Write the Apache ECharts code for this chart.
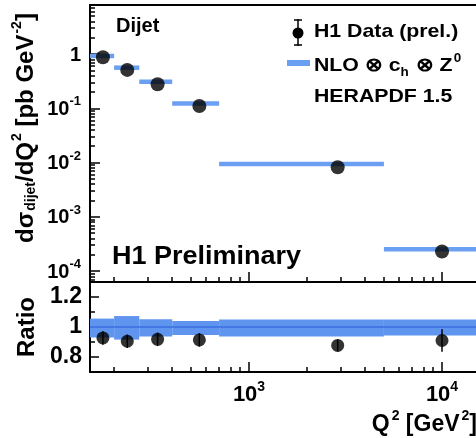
<!DOCTYPE html>
<html>
<head>
<meta charset="utf-8">
<script src="https://cdn.jsdelivr.net/npm/echarts@6/dist/echarts.min.js"></script>
<style>
html,body{margin:0;padding:0;background:#fff;}
#chart{width:476px;height:438px;}
</style>
</head>
<body>
<div id="chart"></div>
<script>
// Q^2 bins [GeV^2]
const binLow  = [150, 200, 270, 400, 700, 5000];
const binHigh = [200, 270, 400, 700, 5000, 15000];
// H1 dijet cross section points (bin centres) [pb GeV^-2]
const dataQ2    = [175, 234, 336, 553, 2880, 10000];
const dataXsec  = [0.87, 0.51, 0.277, 0.110, 0.0082, 2.3e-4];
// NLO x c_h x Z0 prediction per bin [pb GeV^-2]
const nloXsec   = [0.92, 0.56, 0.309, 0.122, 0.0094, 2.54e-4];
// Data / NLO ratio and its uncertainty
const ratioVal  = [0.927, 0.905, 0.918, 0.914, 0.877, 0.91];
const ratioErr  = [0.045, 0.045, 0.045, 0.045, 0.04, 0.075];
// Theory uncertainty band around 1 (up / down)
const bandUp    = [0.056, 0.073, 0.052, 0.040, 0.050, 0.050];
const bandDown  = [0.070, 0.084, 0.063, 0.054, 0.063, 0.056];
// Axis ranges and tick values
const xMin = 150, xMax = 15000;
const yMin = 6.31e-5, yMax = 8.0;
const rMin = 0.7, rMax = 1.3;
const xMajorTicks = [1000, 10000];
const yMajorTicks = [1e-4, 1e-3, 1e-2, 1e-1, 1];
const rMajorTicks = [0.8, 1.0, 1.2];
const rMinorTicks = [0.9, 1.1];

const FONT = "'Liberation Sans', Arial, Helvetica, sans-serif";
const BLUE_BAR = '#6b9ff2';
const BLUE_BAND = '#5f95ee';
const BLUE_LINE = '#3a6ee0';

function logMinor(lo, hi) {
  const out = [];
  for (let e = -6; e <= 5; e++) {
    for (let m = 2; m <= 9; m++) {
      const v = Number((m * Math.pow(10, e)).toPrecision(3));
      if (v > lo && v < hi) out.push(v);
    }
  }
  return out;
}
const xMinorTicks = logMinor(xMin, xMax);
const yMinorTicks = logMinor(yMin, yMax);

function powLabel(v) {
  const e = Math.round(Math.log10(v));
  if (e === 0) return '{m|1}';
  return '{m|10}{s|' + e + '}';
}
function powRich(size, supSize, raise) {
  return {
    m: {fontFamily: FONT, fontWeight: 'bold', fontSize: size, color: '#000', lineHeight: size + 2, verticalAlign: 'bottom'},
    s: {fontFamily: FONT, fontWeight: 'bold', fontSize: supSize, color: '#000', lineHeight: supSize + 1, verticalAlign: 'bottom', padding: [0, 0, raise, 0]}
  };
}

const axisLine = {show: true, lineStyle: {color: '#000', width: 2}};
const noLine = {show: false};

function xAxisPair(grid, showLabels) {
  return [
    {
      type: 'log', gridIndex: grid, min: xMin, max: xMax, position: 'bottom',
      axisLine: axisLine,
      axisTick: {show: true, inside: true, length: 10, customValues: xMajorTicks, lineStyle: {color: '#000', width: 1.5}},
      axisLabel: showLabels ? {
        show: true, customValues: xMajorTicks, margin: 10,
        formatter: powLabel, rich: powRich(22, 14, 12)
      } : {show: false},
      splitLine: {show: false}
    },
    {
      type: 'log', gridIndex: grid, min: xMin, max: xMax, position: 'bottom',
      axisLine: noLine,
      axisTick: {show: true, inside: true, length: 5, customValues: xMinorTicks, lineStyle: {color: '#000', width: 1.5}},
      axisLabel: {show: false},
      splitLine: {show: false}
    }
  ];
}

const option = {
  animation: false,
  backgroundColor: '#fff',
  grid: [
    {left: 90, right: -2, top: 5, height: 277},
    {left: 90, right: -2, top: 282, height: 90}
  ],
  xAxis: [
    ...xAxisPair(0, false),
    ...xAxisPair(1, true),
    // upper frame line of the cross-section panel
    {type: 'log', gridIndex: 0, min: xMin, max: xMax, position: 'top', axisLine: axisLine,
     axisTick: {show: false}, axisLabel: {show: false}, splitLine: {show: false}}
  ],
  yAxis: [
    {
      type: 'log', gridIndex: 0, min: yMin, max: yMax, position: 'left',
      axisLine: axisLine,
      axisTick: {show: true, inside: true, length: 10, customValues: yMajorTicks, lineStyle: {color: '#000', width: 1.5}},
      axisLabel: {show: true, customValues: yMajorTicks, margin: 9, formatter: powLabel, rich: powRich(20, 13, 11)},
      splitLine: {show: false}
    },
    {
      type: 'log', gridIndex: 0, min: yMin, max: yMax, position: 'left',
      axisLine: noLine,
      axisTick: {show: true, inside: true, length: 5, customValues: yMinorTicks, lineStyle: {color: '#000', width: 1.5}},
      axisLabel: {show: false},
      splitLine: {show: false}
    },
    {
      type: 'value', gridIndex: 1, min: rMin, max: rMax, position: 'left',
      axisLine: axisLine,
      axisTick: {show: true, inside: true, length: 9, customValues: rMajorTicks, lineStyle: {color: '#000', width: 1.5}},
      axisLabel: {show: true, customValues: rMajorTicks, margin: 8,
        fontFamily: FONT, fontWeight: 'bold', fontSize: 23, color: '#000',
        formatter: v => String(Math.round(v * 10) / 10)},
      splitLine: {show: false}
    },
    {
      type: 'value', gridIndex: 1, min: rMin, max: rMax, position: 'left',
      axisLine: noLine,
      axisTick: {show: true, inside: true, length: 5, customValues: rMinorTicks, lineStyle: {color: '#000', width: 1.5}},
      axisLabel: {show: false},
      splitLine: {show: false}
    }
  ],
  series: [
    // NLO prediction: horizontal bar across each Q^2 bin
    {
      type: 'custom', xAxisIndex: 0, yAxisIndex: 0, z: 2,
      encode: {x: [0, 1], y: 2},
      data: binLow.map((lo, i) => [lo, binHigh[i], nloXsec[i]]),
      renderItem: (params, api) => {
        const a = api.coord([api.value(0), api.value(2)]);
        const b = api.coord([api.value(1), api.value(2)]);
        return {type: 'line', shape: {x1: a[0], y1: a[1], x2: b[0], y2: b[1]},
                style: {stroke: BLUE_BAR, lineWidth: 4.5}};
      }
    },
    // H1 data points
    {
      type: 'scatter', xAxisIndex: 0, yAxisIndex: 0, z: 5,
      symbol: 'circle', symbolSize: 14,
      itemStyle: {color: '#000'},
      data: dataQ2.map((q, i) => [q, dataXsec[i]])
    },
    // Ratio panel: theory uncertainty band
    {
      type: 'custom', xAxisIndex: 2, yAxisIndex: 2, z: 2,
      encode: {x: [0, 1], y: [2, 3]},
      data: binLow.map((lo, i) => [lo, binHigh[i], 1 - bandDown[i], 1 + bandUp[i]]),
      renderItem: (params, api) => {
        const a = api.coord([api.value(0), api.value(3)]);
        const b = api.coord([api.value(1), api.value(2)]);
        return {type: 'rect', shape: {x: a[0], y: a[1], width: b[0] - a[0], height: b[1] - a[1]},
                style: {fill: BLUE_BAND}};
      }
    },
    // Ratio panel: central line at 1
    {
      type: 'line', xAxisIndex: 2, yAxisIndex: 2, z: 3,
      showSymbol: false, symbol: 'none',
      lineStyle: {color: BLUE_LINE, width: 1.5},
      data: [[xMin, 1], [xMax, 1]]
    },
    // Ratio panel: error bars
    {
      type: 'custom', xAxisIndex: 2, yAxisIndex: 2, z: 4,
      encode: {x: 0, y: [1, 2]},
      data: dataQ2.map((q, i) => [q, ratioVal[i] - ratioErr[i], ratioVal[i] + ratioErr[i]]),
      renderItem: (params, api) => {
        const a = api.coord([api.value(0), api.value(1)]);
        const b = api.coord([api.value(0), api.value(2)]);
        return {type: 'line', shape: {x1: a[0], y1: a[1], x2: b[0], y2: b[1]},
                style: {stroke: '#000', lineWidth: 1.5}};
      }
    },
    // Ratio panel: data / NLO points
    {
      type: 'scatter', xAxisIndex: 2, yAxisIndex: 2, z: 5,
      symbol: 'circle', symbolSize: 13,
      itemStyle: {color: '#000'},
      data: dataQ2.map((q, i) => [q, ratioVal[i]])
    }
  ],
  graphic: [
    // y-axis titles
    {
      type: 'text', x: 25, y: 128, rotation: Math.PI / 2,
      style: {
        text: '{m|dσ}{sub|dijet}{m|/dQ}{sup|2}{m| [pb GeV}{sup|-2}{m|]}',
        align: 'center', verticalAlign: 'middle',
        rich: {
          m: {fontFamily: FONT, fontWeight: 'bold', fontSize: 24, lineHeight: 27, verticalAlign: 'bottom'},
          sub: {fontFamily: FONT, fontWeight: 'bold', fontSize: 14, lineHeight: 14, verticalAlign: 'bottom', padding: [0, 0, 0, 1]},
          sup: {fontFamily: FONT, fontWeight: 'bold', fontSize: 14, lineHeight: 14, verticalAlign: 'bottom', padding: [0, 0, 14, 1]}
        }
      }
    },
    {
      type: 'text', x: 27, y: 327, rotation: Math.PI / 2,
      style: {text: 'Ratio', align: 'center', verticalAlign: 'middle',
              fontFamily: FONT, fontWeight: 'bold', fontSize: 24, fill: '#000'}
    },
    // x-axis title
    {
      type: 'text', x: 477, y: 423,
      style: {
        text: '{m|Q}{sup|2}{m| [GeV}{sup|2}{m|]}',
        align: 'right', verticalAlign: 'middle',
        rich: {
          m: {fontFamily: FONT, fontWeight: 'bold', fontSize: 23, lineHeight: 26, verticalAlign: 'bottom'},
          sup: {fontFamily: FONT, fontWeight: 'bold', fontSize: 14, lineHeight: 14, verticalAlign: 'bottom', padding: [0, 0, 13, 2]}
        }
      }
    },
    // panel labels
    {
      type: 'text', x: 116, y: 26,
      style: {text: 'Dijet', align: 'left', verticalAlign: 'middle',
              fontFamily: FONT, fontWeight: 'bold', fontSize: 20, fill: '#000'}
    },
    {
      type: 'text', x: 112, y: 257, scaleX: 1.08,
      style: {text: 'H1 Preliminary', align: 'left', verticalAlign: 'middle',
              fontFamily: FONT, fontWeight: 'bold', fontSize: 25, fill: '#000'}
    },
    // legend: data marker with error bar
    {type: 'line', shape: {x1: 298, y1: 19, x2: 298, y2: 46}, style: {stroke: '#000', lineWidth: 1.5}},
    {type: 'line', shape: {x1: 294, y1: 20, x2: 302, y2: 20}, style: {stroke: '#000', lineWidth: 1.5}},
    {type: 'line', shape: {x1: 294, y1: 45, x2: 302, y2: 45}, style: {stroke: '#000', lineWidth: 1.5}},
    {type: 'circle', shape: {cx: 298, cy: 33, r: 5.5}, style: {fill: '#000'}},
    {
      type: 'text', x: 314, y: 32, scaleX: 1.12,
      style: {text: 'H1 Data (prel.)', align: 'left', verticalAlign: 'middle',
              fontFamily: FONT, fontWeight: 'bold', fontSize: 19, fill: '#000'}
    },
    // legend: NLO line sample
    {type: 'line', shape: {x1: 287, y1: 63, x2: 310, y2: 63}, style: {stroke: BLUE_BAR, lineWidth: 6}},
    {
      type: 'text', x: 314, y: 64, scaleX: 1.12,
      style: {
        text: '{m|NLO ⊗ c}{sub|h}{m| ⊗ Z}{sup|0}',
        align: 'left', verticalAlign: 'middle',
        rich: {
          m: {fontFamily: FONT, fontWeight: 'bold', fontSize: 19, lineHeight: 22, verticalAlign: 'bottom'},
          sub: {fontFamily: FONT, fontWeight: 'bold', fontSize: 12, lineHeight: 12, verticalAlign: 'bottom', padding: [0, 1, -4, 0]},
          sup: {fontFamily: FONT, fontWeight: 'bold', fontSize: 12, lineHeight: 12, verticalAlign: 'bottom', padding: [0, 0, 10, 1]}
        }
      }
    },
    {
      type: 'text', x: 314, y: 97, scaleX: 1.12,
      style: {text: 'HERAPDF 1.5', align: 'left', verticalAlign: 'middle',
              fontFamily: FONT, fontWeight: 'bold', fontSize: 19, fill: '#000'}
    }
  ]
};

const chart = echarts.init(document.getElementById('chart'), null, {renderer: 'canvas'});
chart.setOption(option);
</script>
</body>
</html>
